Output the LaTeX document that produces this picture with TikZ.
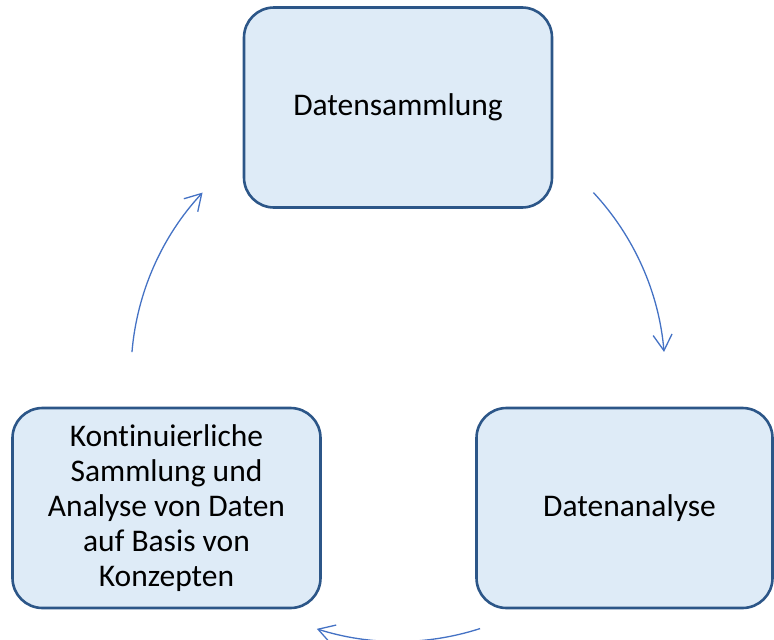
\documentclass[tikz,border=0pt]{standalone}
\usepackage{fontspec}
\setmainfont{Carlito}[Ligatures={NoCommon}]
\usetikzlibrary{arrows.meta}
\definecolor{boxfill}{RGB}{222,235,247}
\definecolor{boxline}{RGB}{44,86,136}
\definecolor{arrowblue}{RGB}{68,114,196}
\begin{document}
\begin{tikzpicture}[x=1pt,y=-1pt,
  stagebox/.style={draw=boxline, line width=2.6pt, fill=boxfill, rounded corners=30pt,
    minimum height=200pt, align=center, inner sep=0pt,
    font=\fontsize{31.5}{34.8}\selectfont},
  cyclearrow/.style={draw=arrowblue, line width=1.3pt,
    -{Straight Barb[length=16pt,width=19pt]}}]
\useasboundingbox (0,0) rectangle (774,640);
\clip (0,0) rectangle (774,640);
\coordinate (hub) at (398,374.5);
\node[stagebox, minimum width=308pt] (collect) at (398,107.5) {Datensammlung};
\node[stagebox, minimum width=308pt] (concept) at (166.5,508) {Kontinuierliche\\Sammlung und\\Analyse von Daten\\auf Basis von\\Konzepten};
\node[stagebox, minimum width=296pt] (analyse) at (624.5,508) {\hspace*{10pt}Datenanalyse};
\coordinate (a1) at ([shift={(-42.95:267)}]hub);
\coordinate (a2) at ([shift={(72.1:267)}]hub);
\coordinate (a3) at ([shift={(184.8:267)}]hub);
\draw[cyclearrow] (a1) arc[start angle=-42.95, end angle=-4.85, radius=267];
\draw[cyclearrow] (a2) arc[start angle=72.1, end angle=107.7, radius=267];
\draw[cyclearrow] (a3) arc[start angle=184.8, end angle=222.95, radius=267];
\end{tikzpicture}
\end{document}
